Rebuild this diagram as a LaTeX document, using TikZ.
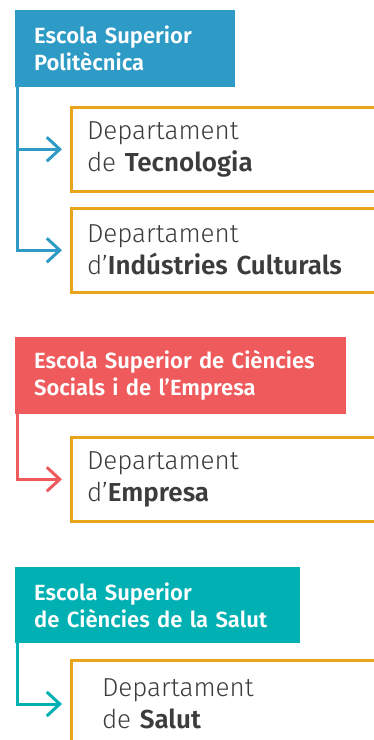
\documentclass[tikz,border=0pt]{standalone}
\usepackage{fontspec}
\setmainfont{Fira Sans}
\newfontfamily\headfont{Fira Sans SemiBold}
\newfontfamily\deptfont{Fira Sans Light}[BoldFont={Fira Sans SemiBold}]
\usetikzlibrary{arrows.meta}
\definecolor{espblue}{HTML}{2E9BC6}
\definecolor{escred}{HTML}{EF5A5C}
\definecolor{essteal}{HTML}{00B0B2}
\definecolor{deptorange}{HTML}{E8A519}
\definecolor{depttext}{HTML}{3C3C3B}
\tikzset{
  head/.style={anchor=north west, fill=#1, text=white, align=left,
    font=\headfont\fontsize{22}{27}\selectfont, inner xsep=19pt, inner ysep=0pt,
    minimum height=77pt},
  dept/.style={anchor=north west, draw=deptorange, line width=3pt, fill=white,
    text=depttext, align=left, font=\deptfont\fontsize{26}{32}\selectfont,
    inner xsep=16pt, text width=300pt, minimum height=84.5pt},
  link/.style={draw=#1, line width=3pt, -{Straight Barb[length=13pt,width=24pt]},
    shorten >=7.5pt},
}
\begin{document}
\begin{tikzpicture}[x=1pt, y=-1pt]
\clip (0,0) rectangle (374,740);
\fill[white] (0,0) rectangle (374,740);

\node[head=espblue, text width=182pt] (esp) at (15,10) {Escola Superior\\Politècnica};
\node[dept] (tec) at (69.5,105.5) {Departament\\de \textbf{Tecnologia}};
\node[dept] (ind) at (69.5,206.5) {Departament\\d’\textbf{Indústries Culturals}};
\draw[link=espblue] ([xshift=2.5pt]esp.south west) |- (tec.west);
\draw[link=espblue] ([xshift=2.5pt]esp.south west) |- (ind.west);

\node[head=escred, text width=293pt] (escse) at (15,337) {Escola Superior de Ciències\\Socials i de l’Empresa};
\node[dept] (emp) at (69.5,435.5) {Departament\\d’\textbf{Empresa}};
\draw[link=escred] ([xshift=2.5pt]escse.south west) |- (emp.west);

\node[head=essteal, text width=247pt, minimum height=76pt] (escs) at (15,567) {Escola Superior\\de Ciències de la Salut};
\node[dept, inner xsep=31pt, minimum height=88pt] (sal) at (69.5,658.5) {Departament\\de \textbf{Salut}};
\draw[link=essteal] ([xshift=2.5pt]escs.south west) |- (sal.west);
\end{tikzpicture}
\end{document}
